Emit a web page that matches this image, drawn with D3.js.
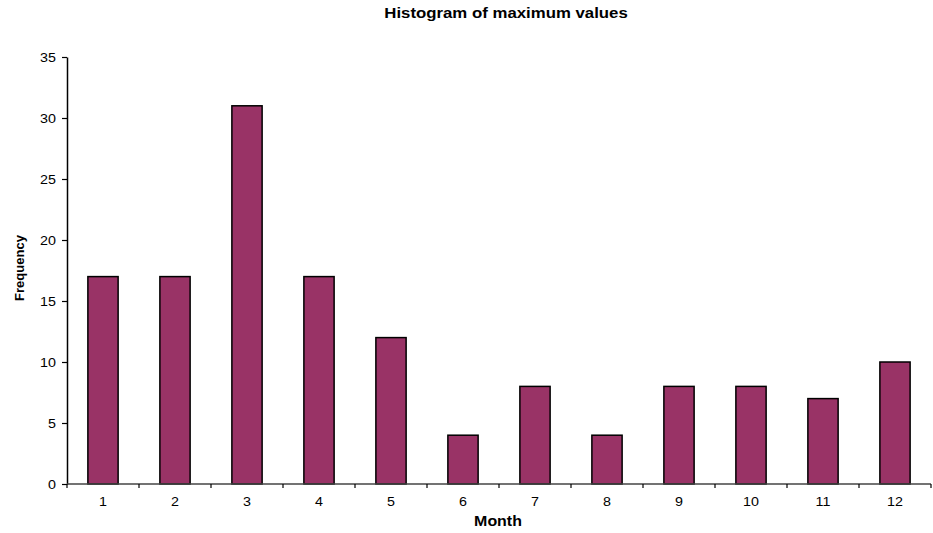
<!DOCTYPE html>
<html>
<head>
<meta charset="utf-8">
<script src="https://cdn.jsdelivr.net/npm/d3@7"></script>
<style>
  html, body { margin: 0; padding: 0; background: #fff; }
  svg text { font-family: "Liberation Sans", Arial, sans-serif; fill: #000; }
</style>
</head>
<body>
<svg id="chart" width="933" height="533"></svg>
<script>
// Histogram: count of maximum values falling in each month
const months = ["1","2","3","4","5","6","7","8","9","10","11","12"];
const frequency = [17, 17, 31, 17, 12, 4, 8, 4, 8, 8, 7, 10];
const yTicks = [0, 5, 10, 15, 20, 25, 30, 35];

const svg = d3.select("#chart");
const plotLeft = 67, plotRight = 931, plotTop = 57, plotBottom = 484;
const tickStretch = 1.1;   // slightly wide lettering

const x = d3.scaleBand().domain(months).range([plotLeft, plotRight]).paddingInner(0.58).paddingOuter(0.29);
const y = d3.scaleLinear().domain([0, 35]).range([plotBottom, plotTop]);

// Bars
svg.append("g").selectAll("rect")
  .data(months.map((m, i) => ({ m, v: frequency[i] })))
  .join("rect")
  .attr("x", d => x(d.m))
  .attr("y", d => y(d.v))
  .attr("width", x.bandwidth())
  .attr("height", d => y(0) - y(d.v))
  .attr("fill", "#993366")
  .attr("stroke", "#000")
  .attr("stroke-width", 1.5);

// Y axis
const yAxis = svg.append("g")
  .attr("transform", `translate(${plotLeft},0)`)
  .call(d3.axisLeft(y).tickValues(yTicks).tickSize(5).tickPadding(6).tickSizeOuter(0));
yAxis.select(".domain").attr("stroke", "#000").attr("stroke-width", 1.5);
yAxis.selectAll(".tick line").attr("stroke", "#000").attr("stroke-width", 1.2);
yAxis.selectAll("text")
  .style("font-size", "13px")
  .attr("x", -11 / tickStretch)
  .attr("transform", `scale(${tickStretch},1)`);

// X axis: line, boundary ticks between categories, labels centred
const xg = svg.append("g").attr("transform", `translate(0,${plotBottom})`);
xg.append("line").attr("x1", plotLeft).attr("x2", plotRight).attr("stroke", "#444").attr("stroke-width", 1.5);
const step = x.step();
const bounds = d3.range(months.length + 1).map(i => plotLeft + i * step);
xg.selectAll("line.b").data(bounds).join("line").attr("class", "b")
  .attr("x1", d => d).attr("x2", d => d).attr("y1", 0).attr("y2", 4)
  .attr("stroke", "#000").attr("stroke-width", 1.2);
xg.selectAll("text").data(months).join("text")
  .attr("transform", d => `translate(${x(d) + x.bandwidth() / 2},22) scale(${tickStretch},1)`)
  .attr("text-anchor", "middle")
  .style("font-size", "13px")
  .text(d => d);

// Titles
svg.append("text").attr("transform", "translate(506,18) scale(1.2,1)").attr("text-anchor", "middle")
  .style("font-size", "14px").style("font-weight", "bold").text("Histogram of maximum values");
svg.append("text").attr("transform", "translate(498,526) scale(1.14,1)").attr("text-anchor", "middle")
  .style("font-size", "14px").style("font-weight", "bold").text("Month");
svg.append("text").attr("transform", "translate(24,268) rotate(-90)").attr("text-anchor", "middle")
  .style("font-size", "13px").style("font-weight", "bold").text("Frequency");
</script>
</body>
</html>
